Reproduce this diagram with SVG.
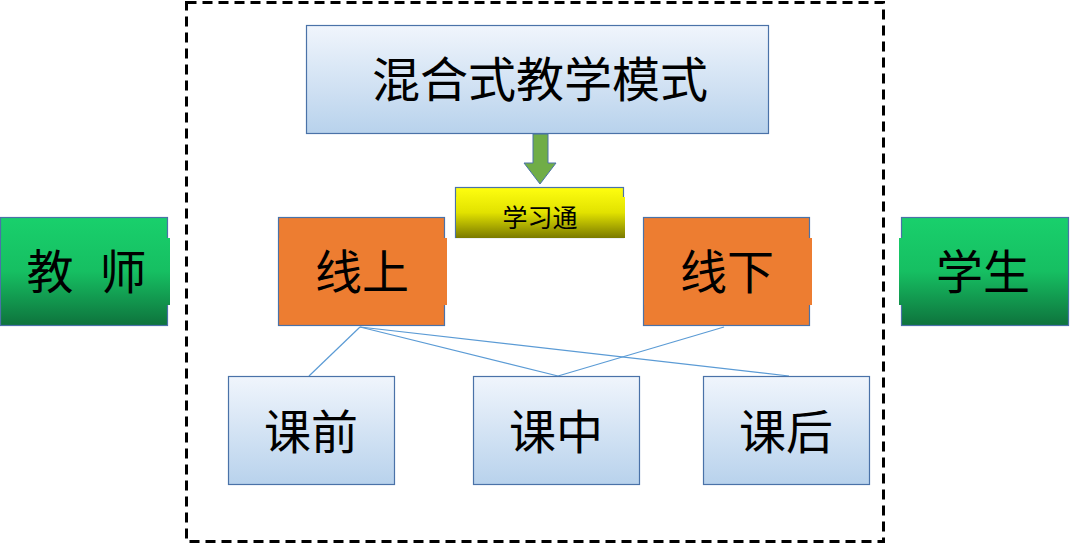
<svg xmlns="http://www.w3.org/2000/svg" width="1070" height="545" viewBox="0 0 1070 545">
<defs>
<linearGradient id="gBlue" x1="0" y1="0" x2="0" y2="1"><stop offset="0" stop-color="#f0f5fc"/><stop offset="1" stop-color="#b8d2ec"/></linearGradient>
<linearGradient id="gGreen" gradientUnits="userSpaceOnUse" x1="0" y1="217" x2="0" y2="326"><stop offset="0" stop-color="#19d06c"/><stop offset="0.5" stop-color="#16bf62"/><stop offset="1" stop-color="#0e723c"/></linearGradient>
<linearGradient id="gYellow" gradientUnits="userSpaceOnUse" x1="0" y1="187" x2="0" y2="238"><stop offset="0" stop-color="#ffff10"/><stop offset="0.5" stop-color="#e2e200"/><stop offset="1" stop-color="#7a7a00"/></linearGradient>
<style>
.t{font-family:"Liberation Sans","Noto Sans CJK SC",sans-serif;fill:#000;text-anchor:middle;dominant-baseline:central}
.big{font-size:47px}
.sm{font-size:25px}
.ol{stroke:#4a72a8;stroke-width:1.2}
.con{stroke:#5b9bd5;stroke-width:1.2;fill:none}
</style>
</defs>
<rect x="186.5" y="2.5" width="697" height="539" fill="none" stroke="#000" stroke-width="3" stroke-dasharray="10,6"/>
<g id="connectors">
<line class="con" x1="360" y1="327" x2="309" y2="376"/>
<line class="con" x1="360" y1="327" x2="558" y2="376"/>
<line class="con" x1="360" y1="327" x2="789" y2="376"/>
<line class="con" x1="724" y1="327" x2="558" y2="376"/>
<polygon points="533,134 548,134 548,163 556,163 540,184 524,163 533,163" fill="#70ad47" stroke="#4a72a8" stroke-width="1"/>
</g>
<g id="mode">
<rect x="306.5" y="25.5" width="462" height="108" fill="url(#gBlue)" class="ol"/>
<text class="t" style="font-size:48px" x="540" y="80">混合式教学模式</text>
</g>
<g id="xuexitong">
<rect x="455.5" y="187.5" width="168" height="50" fill="url(#gYellow)" class="ol"/>
<rect x="456" y="197" width="169" height="41" fill="url(#gYellow)"/>
<text class="t sm" x="540" y="218">学习通</text>
</g>
<g id="teacher">
<rect x="0.5" y="217.5" width="167" height="108" fill="url(#gGreen)" class="ol"/>
<rect x="1" y="238" width="169" height="67" fill="url(#gGreen)"/>
<text class="t big" x="50" y="272">教</text>
<text class="t big" x="123" y="272">师</text>
</g>
<g id="student">
<rect x="901.5" y="217.5" width="167" height="108" fill="url(#gGreen)" class="ol"/>
<rect x="899" y="238" width="169" height="67" fill="url(#gGreen)"/>
<text class="t big" x="983" y="272">学生</text>
</g>
<g id="online">
<rect x="278.5" y="217.5" width="166" height="108" fill="#ed7d31" class="ol"/>
<rect x="279" y="238" width="168" height="67" fill="#ed7d31"/>
<text class="t big" x="362" y="272">线上</text>
</g>
<g id="offline">
<rect x="643.5" y="217.5" width="166" height="108" fill="#ed7d31" class="ol"/>
<rect x="644" y="238" width="168" height="67" fill="#ed7d31"/>
<text class="t big" x="727" y="272">线下</text>
</g>
<g id="before">
<rect x="228.5" y="376.5" width="166" height="108" fill="url(#gBlue)" class="ol"/>
<text class="t big" x="311" y="432">课前</text>
</g>
<g id="during">
<rect x="473.5" y="376.5" width="166" height="108" fill="url(#gBlue)" class="ol"/>
<text class="t big" x="556" y="432">课中</text>
</g>
<g id="after">
<rect x="703.5" y="376.5" width="166" height="108" fill="url(#gBlue)" class="ol"/>
<text class="t big" x="786" y="432">课后</text>
</g>
</svg>
